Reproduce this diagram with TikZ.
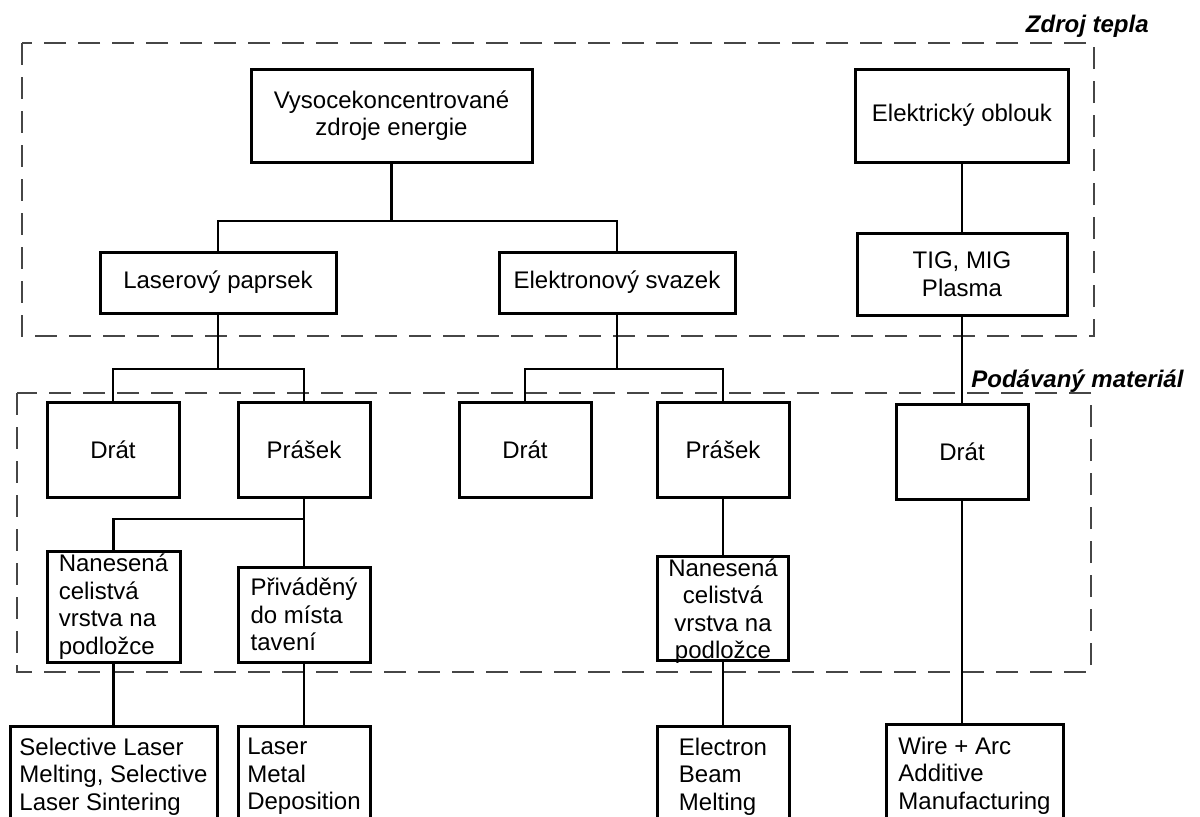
\documentclass[tikz,border=0pt]{standalone}
\usepackage{fontspec}
\setmainfont{Liberation Sans}
\usetikzlibrary{positioning}
\definecolor{framegray}{RGB}{70, 70, 70}
\tikzset{
  blk/.style      = {rectangle, draw=black, line width=1.5pt, align=center, inner sep=1pt, font=\fontsize{12}{13.8}\selectfont},
  blkl/.style     = {blk, align=left},
  link/.style     = {line width=1.3pt, black},
  grp/.style      = {draw=framegray, line width=1pt, dash pattern=on 11pt off 6pt},
  grplabel/.style = {inner sep=0pt, font=\fontsize{12}{14}\selectfont\bfseries\itshape},
}

\begin{document}
\begin{tikzpicture}[x=0.5pt, y=-0.5pt]

\useasboundingbox (0,0) rectangle (1200,816);

% === heat source ===
\draw[grp] (22,43) rectangle (1094,336);
\node[grplabel, anchor=base east] (zdroj) at (1149,32) {Zdroj tepla};

\node[blk, minimum width=140.5pt, minimum height=46.5pt] (vys) at (391.5,115.5) {Vysocekoncentrované\\zdroje energie};
\node[blk, minimum width=106.5pt, minimum height=46.5pt] (obl) at (962,115.5) {Elektrický oblouk};
\node[blk, minimum width=118pt, minimum height=30.5pt] (las) at (218,282.5) {Laserový paprsek};
\node[blk, minimum width=118pt, minimum height=30.5pt] (elv) at (617,282.5) {Elektronový svazek};
\node[blk, minimum width=105pt, minimum height=41pt] (tig) at (962,274) {TIG, MIG\\Plasma};

% === fed material ===
\draw[grp] (17,393) rectangle (1091,672);
\node[grplabel, anchor=base west] (podav) at (971,387) {Podávaný materiál};

\node[blk, minimum width=66pt, minimum height=47.5pt] (dr1) at (113,449.5) {Drát};
\node[blk, minimum width=66pt, minimum height=47.5pt] (pr1) at (304,449.5) {Prášek};
\node[blk, minimum width=66pt, minimum height=47.5pt] (dr2) at (525,449.5) {Drát};
\node[blk, minimum width=66pt, minimum height=47.5pt] (pr2) at (723,449.5) {Prášek};
\node[blk, minimum width=66pt, minimum height=47.5pt] (dr3) at (962,451.5) {Drát};

\node[blkl, inner ysep=0pt, minimum width=66.5pt, minimum height=55.5pt] (nan1) at (113.5,606.5) {Nanesená\\celistvá\\vrstva na\\podložce};
\node[blkl, minimum width=66pt, minimum height=47.5pt] (pri) at (304,614.5) {Přiváděný\\do místa\\tavení};
\node[blk, anchor=north, text depth=-1pt, minimum width=65.5pt] (nan2) at (723,555) {Nanesená\\celistvá\\vrstva na\\podložce};

% === methods ===
\node[blkl, anchor=north, minimum width=103.5pt, minimum height=50pt] (slm) at (113.5,725) {Selective Laser\\Melting, Selective\\Laser Sintering};
\node[blkl, anchor=north, minimum width=66pt, minimum height=50pt] (lmd) at (304,725) {Laser\\Metal\\Deposition};
\node[blkl, anchor=north, minimum width=66pt, minimum height=50pt] (ebm) at (723,725) {Electron\\Beam\\Melting};
\node[blkl, anchor=north, minimum width=88.5pt, minimum height=51pt] (waam) at (974.5,723) {Wire + Arc\\Additive\\Manufacturing};

% connectors
\coordinate (j1) at (391.5,221);
\coordinate (j2) at (218,369);
\coordinate (j3) at (617,369);
\coordinate (j4) at (304,519);

\draw[link] (vys) -- (j1);
\draw[link] (las.north) |- (j1) -| (elv.north);
\draw[link] (obl) -- (tig);

\draw[link] (las) -- (j2);
\draw[link] (dr1.north) |- (j2) -| (pr1.north);
\draw[link] (elv) -- (j3);
\draw[link] (dr2.north) |- (j3) -| (pr2.north);
\draw[link] (tig) -- (dr3);

\draw[link] (pr1) -- (pri);
\draw[link] (j4) -| (nan1.north);
\draw[link] (pr2) -- (nan2);

\draw[link] (nan1) -- (slm);
\draw[link] (pri) -- (lmd);
\draw[link] (nan2) -- (ebm);
\draw[link] (dr3) -- (dr3 |- waam.north);

\end{tikzpicture}
\end{document}
